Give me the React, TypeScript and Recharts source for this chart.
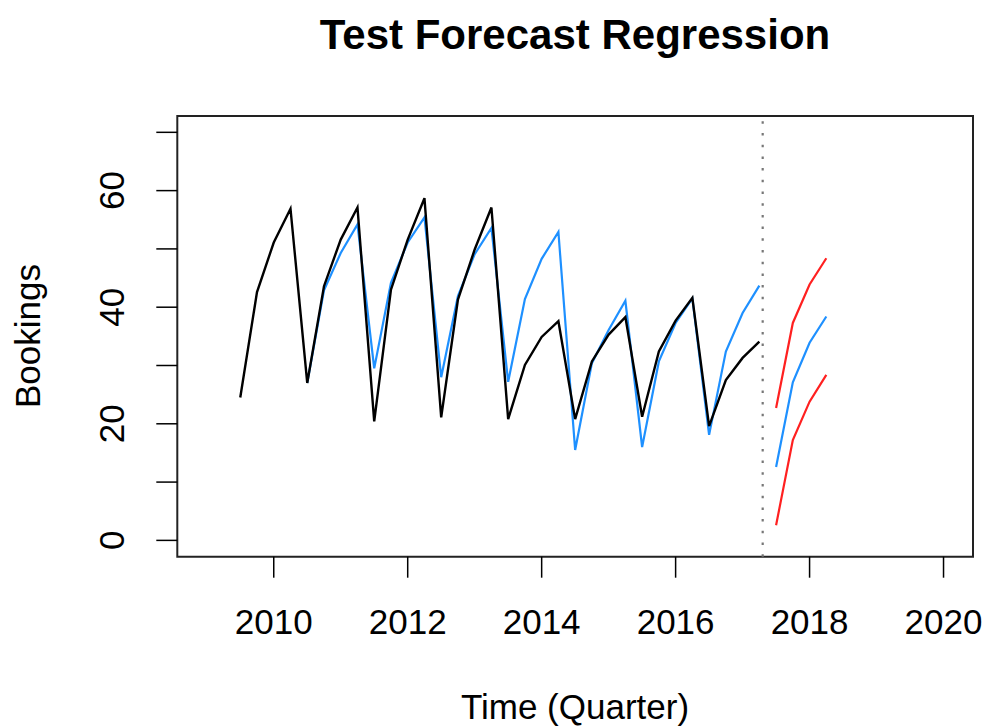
import React from 'react';
import { LineChart, Line, XAxis, YAxis, ReferenceLine, ReferenceArea } from 'recharts';

// quarterly time index (decimal years)
const actualTime = [
  2009.5, 2009.75, 2010.0, 2010.25, 2010.5, 2010.75, 2011.0, 2011.25,
  2011.5, 2011.75, 2012.0, 2012.25, 2012.5, 2012.75, 2013.0, 2013.25,
  2013.5, 2013.75, 2014.0, 2014.25, 2014.5, 2014.75, 2015.0, 2015.25,
  2015.5, 2015.75, 2016.0, 2016.25, 2016.5, 2016.75, 2017.0, 2017.25,
];
const actualBookings = [
  24.5, 42.6, 51.1, 56.9, 27.0, 43.6, 51.6, 57.1,
  20.4, 43.0, 51.6, 58.7, 21.1, 41.3, 49.9, 57.1,
  20.8, 30.1, 34.9, 37.6, 20.8, 30.7, 35.3, 38.3,
  21.2, 32.4, 37.7, 41.6, 19.6, 27.5, 31.3, 34.1,
];

const fittedTime = [
  2010.5, 2010.75, 2011.0, 2011.25, 2011.5, 2011.75, 2012.0, 2012.25,
  2012.5, 2012.75, 2013.0, 2013.25, 2013.5, 2013.75, 2014.0, 2014.25,
  2014.5, 2014.75, 2015.0, 2015.25, 2015.5, 2015.75, 2016.0, 2016.25,
  2016.5, 2016.75, 2017.0, 2017.25,
];
const fittedBookings = [
  27.0, 42.9, 49.3, 54.2, 29.5, 44.2, 51.1, 55.4,
  28.0, 41.9, 49.1, 53.6, 27.2, 41.4, 48.3, 52.9,
  15.5, 30.4, 36.1, 41.1, 16.0, 30.7, 37.3, 41.5,
  18.1, 32.4, 39.0, 43.7,
];

const forecastTime = [2017.5, 2017.75, 2018.0, 2018.25];
const forecastMean = [12.6, 27.1, 33.9, 38.4];
const forecastUpper = [22.7, 37.3, 43.9, 48.4];
const forecastLower = [2.6, 17.2, 23.8, 28.4];

const splitTime = 2017.3;

const xTicks = [2010, 2012, 2014, 2016, 2018, 2020];
const yTicks = [0, 10, 20, 30, 40, 50, 60, 70];
const yLabelled = [0, 20, 40, 60];
const xDomain: [number, number] = [2008.56, 2020.44];
const yDomain: [number, number] = [-2.8, 72.8];

const toPoints = (xs: number[], ys: number[]) => xs.map((x, i) => ({ x, y: ys[i] }));

const FONT = '"Liberation Sans", Arial, Helvetica, sans-serif';
const BLUE = '#1E90FF';
const RED = '#FF2020';

const XTick = (props: any) => {
  const { x, y, payload } = props;
  return (
    <text x={x} y={y + 42} textAnchor="middle" dominantBaseline="central" fontSize={35} fontFamily={FONT} fill="#000">
      {payload.value}
    </text>
  );
};

const YTick = (props: any) => {
  const { x, y, payload } = props;
  if (!yLabelled.includes(payload.value)) return <g />;
  const cx = x - 43;
  return (
    <text
      x={cx}
      y={y}
      textAnchor="middle"
      dominantBaseline="central"
      fontSize={35}
      fontFamily={FONT}
      fill="#000"
      transform={`rotate(-90 ${cx} ${y})`}
    >
      {payload.value}
    </text>
  );
};

export default function App() {
  return (
    <div style={{ position: 'absolute', left: 0, top: 0, width: 986, height: 727, background: '#fff' }}>
      <LineChart width={986} height={727} margin={{ top: 116, right: 13, bottom: 0, left: 0 }}>
        <XAxis
          type="number"
          dataKey="x"
          domain={xDomain}
          ticks={xTicks}
          allowDataOverflow
          axisLine={false}
          tickLine={{ stroke: '#000', strokeWidth: 1.5 }}
          tickSize={21}
          tickMargin={2}
          height={170.3}
          tick={XTick}
        />
        <YAxis
          type="number"
          domain={yDomain}
          ticks={yTicks}
          allowDataOverflow
          axisLine={false}
          tickLine={{ stroke: '#000', strokeWidth: 1.5 }}
          tickSize={21}
          tickMargin={2}
          width={177.3}
          tick={YTick}
        />
        <ReferenceArea
          x1={xDomain[0]}
          x2={xDomain[1]}
          y1={yDomain[0]}
          y2={yDomain[1]}
          fill="none"
          stroke="#222"
          strokeWidth={2}
          ifOverflow="visible"
        />
        <ReferenceLine x={splitTime} stroke="#777" strokeWidth={2.2} strokeDasharray="2.5 9.2" />
        <Line data={toPoints(fittedTime, fittedBookings)} dataKey="y" type="linear" stroke={BLUE} strokeWidth={2.2} dot={false} isAnimationActive={false} />
        <Line data={toPoints(actualTime, actualBookings)} dataKey="y" type="linear" stroke="#000" strokeWidth={2.4} dot={false} isAnimationActive={false} />
        <Line data={toPoints(forecastTime, forecastUpper)} dataKey="y" type="linear" stroke={RED} strokeWidth={2.2} dot={false} isAnimationActive={false} />
        <Line data={toPoints(forecastTime, forecastMean)} dataKey="y" type="linear" stroke={BLUE} strokeWidth={2.2} dot={false} isAnimationActive={false} />
        <Line data={toPoints(forecastTime, forecastLower)} dataKey="y" type="linear" stroke={RED} strokeWidth={2.2} dot={false} isAnimationActive={false} />
        <text x={575} y={49} textAnchor="middle" fontSize={42} fontWeight="bold" fontFamily={FONT} fill="#000">
          Test Forecast Regression
        </text>
        <text x={575} y={719} textAnchor="middle" fontSize={35} fontFamily={FONT} fill="#000">
          Time (Quarter)
        </text>
        <text x={40} y={336} textAnchor="middle" fontSize={35} fontFamily={FONT} fill="#000" transform="rotate(-90 40 336)">
          Bookings
        </text>
      </LineChart>
    </div>
  );
}
